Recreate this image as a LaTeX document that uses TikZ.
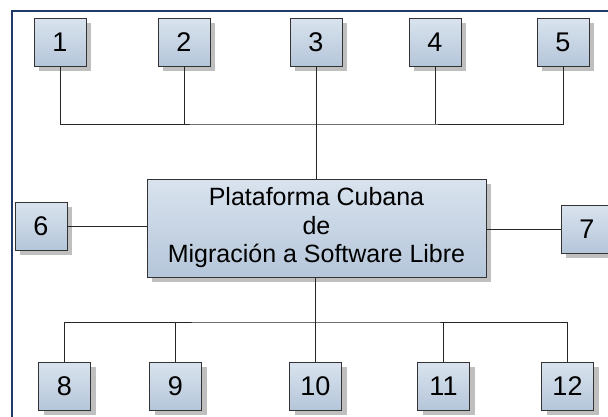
\documentclass[tikz,border=0pt]{standalone}
\usepackage{fontspec}
\setmainfont{Liberation Sans}
\usetikzlibrary{shadows}

\definecolor{framenavy}{HTML}{1F3A68}
\definecolor{boxtop}{HTML}{D9E3EE}
\definecolor{boxbot}{HTML}{B5C6DA}

\begin{document}
\begin{tikzpicture}[x=1pt, y=-1pt,
    numbox/.style={draw=black!80, line width=0.8pt, top color=boxtop, bottom color=boxbot,
      minimum width=52pt, minimum height=48pt, inner sep=0pt,
      font=\fontsize{27}{30}\selectfont,
      drop shadow={shadow xshift=5pt, shadow yshift=-5pt, fill=black!25, opacity=1}},
    mainbox/.style={numbox, minimum width=339pt, minimum height=98pt, align=center,
      font=\fontsize{25}{28.5}\selectfont},
    bus/.style={draw=black!85, line width=0.8pt}]
                \useasboundingbox (0,0) rectangle (608,416);
                \fill[white] (0,0) rectangle (608,416);
                \draw[framenavy, line width=2pt] (12,430) -- (12,11) -- (620,11);

                \node (M) [mainbox] at (316.5,228)
                {Plataforma Cubana\\de\\Migración a Software Libre};

                \node (N1) [numbox] at (60,42) {1};
                \node (N2) [numbox] at (184,42) {2};
                \node (N3) [numbox] at (316,42) {3};
                \node (N4) [numbox] at (435,42) {4};
                \node (N5) [numbox] at (563,42) {5};
                \node (N6) [numbox] at (41,226) {6};
                \node (N7) [numbox] at (587,229) {7};
                \node (N8) [numbox] at (64.5,386) {8};
                \node (N9) [numbox] at (175.5,386) {9};
                \node (N10) [numbox] at (315.5,386) {10};
                \node (N11) [numbox] at (443.5,386) {11};
                \node (N12) [numbox] at (567.5,386) {12};

                \coordinate (TB) at (316,124);
                \coordinate (BB) at (316,322);

                \draw[bus] (N1.south) |- (TB) -| (N5.south);
                \draw[bus] (N2.south) -- (N2.south |- TB);
                \draw[bus] (N4.south) -- (N4.south |- TB);
                \draw[bus] (N3.south) -- (M.north -| N3.south);
                \draw[bus] (N6.east) -- (N6.east -| M.west);
                \draw[bus] (M.east |- N7.west) -- (N7.west);
                \draw[bus] (M.south -| N10.north) -- (N10.north);
                \draw[bus] (N8.north) |- (BB) -| (N12.north);
                \draw[bus] (N9.north) -- (N9.north |- BB);
                \draw[bus] (N11.north) -- (N11.north |- BB);
            \end{tikzpicture}
\end{document}
